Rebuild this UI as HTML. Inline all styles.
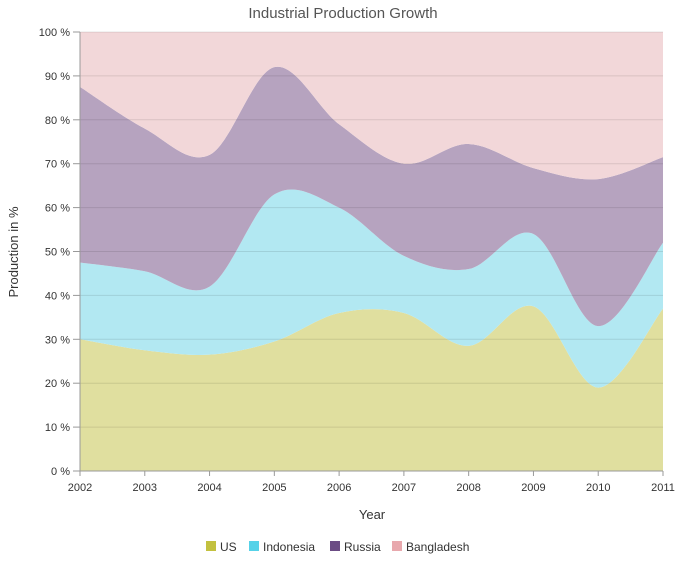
<!DOCTYPE html>
<html><head><meta charset="utf-8"><style>
body{margin:0;background:#fff;font-family:"Liberation Sans","DejaVu Sans",sans-serif}
svg text{font-family:"Liberation Sans","DejaVu Sans",sans-serif}
</style></head><body>
<svg id="chart" width="681" height="559">
<text x="343" y="18" text-anchor="middle" font-size="15" fill="#555">Industrial Production Growth</text>
<g id="areas"></g><g id="grid"></g><g id="axes"></g>
<text x="372" y="519" text-anchor="middle" font-size="13" fill="#333">Year</text>
<text transform="translate(18,252) rotate(-90)" text-anchor="middle" font-size="13" fill="#333">Production in %</text>
<g id="legend"></g>
</svg>
<script>
const years=[2002,2003,2004,2005,2006,2007,2008,2009,2010,2011];
const us=[30,27.5,26.5,29.5,36,36,28.5,37.5,19,37];
const indonesia=[17.5,18,15.5,33.5,24,13,17.5,16.5,14,15];
const russia=[40,32.5,30,29,19,21,28.5,15,33.5,19.5];
const bangladesh=[12.5,22,28,8,21,30,25.5,31,33.5,28.5];
const yTicks=[0,10,20,30,40,50,60,70,80,90,100];
const seriesNames=["US","Indonesia","Russia","Bangladesh"];
const fills=["#e0df9f","#b2e8f2","#b6a3bf","#f2d7d9"];
const legendColors=["#c3c13f","#56d2e8","#6b4c84","#e8a8ad"];
const ns="http://www.w3.org/2000/svg";
const X0=80,X1=663,Y0=471,Y1=32;
const xs=i=>X0+(X1-X0)*i/(years.length-1);
const ys=v=>Y0-(Y0-Y1)*v/100;
function mk(t,a,p){const e=document.createElementNS(ns,t);for(const k in a)e.setAttribute(k,a[k]);p.appendChild(e);return e;}
const series=[us,indonesia,russia,bangladesh];
const totals=years.map((_,i)=>series.reduce((s,a)=>s+a[i],0));
const cum=[];let prev=years.map(()=>0);
series.forEach(a=>{const c=prev.map((p,i)=>p+a[i]/totals[i]*100);cum.push(c);prev=c;});
function spline(pts,start){let d=start?`M${pts[0][0]},${pts[0][1]}`:`L${pts[0][0]},${pts[0][1]}`;
for(let i=0;i<pts.length-1;i++){const p0=pts[Math.max(0,i-1)],p1=pts[i],p2=pts[i+1],p3=pts[Math.min(pts.length-1,i+2)];
const c1=[p1[0]+(p2[0]-p0[0])/6,p1[1]+(p2[1]-p0[1])/6],c2=[p2[0]-(p3[0]-p1[0])/6,p2[1]-(p3[1]-p1[1])/6];
d+=`C${c1[0]},${Math.min(Y0,Math.max(Y1,c1[1]))},${c2[0]},${Math.min(Y0,Math.max(Y1,c2[1]))},${p2[0]},${p2[1]}`;}return d;}
const areas=document.getElementById('areas');
cum.forEach((c,k)=>{const top=c.map((v,i)=>[xs(i),ys(v)]);
const bot=(k===0?years.map(()=>0):cum[k-1]).map((v,i)=>[xs(i),ys(v)]).reverse();
const p=mk('path',{d:spline(top,true)+spline(bot,false)+'Z',fill:fills[k]},areas);

});
const grid=document.getElementById('grid'),axes=document.getElementById('axes');
yTicks.forEach(t=>{const y=ys(t);
if(t>0){const g=mk('line',{x1:X0,x2:X1,y1:y,y2:y,stroke:'rgba(0,0,0,0.1)'},grid);}
mk('line',{x1:X0-7,x2:X0,y1:y,y2:y,stroke:'#999'},axes);
const tx=mk('text',{x:X0-10,y:y+4,'text-anchor':'end','font-size':'11',fill:'#333'},axes);tx.textContent=t+' %';
});
mk('line',{x1:X0,x2:X0,y1:Y1,y2:Y0,stroke:'#999'},axes);
mk('line',{x1:X0,x2:X1,y1:Y0,y2:Y0,stroke:'#999'},axes);
years.forEach((yr,i)=>{const x=xs(i);mk('line',{x1:x,x2:x,y1:Y0,y2:Y0+5,stroke:'#999'},axes);
const tx=mk('text',{x:x,y:491,'text-anchor':'middle','font-size':'11',fill:'#333'},axes);tx.textContent=yr;
});
const lg=document.getElementById('legend');const lx=[206,249,330,392];
seriesNames.forEach((n,k)=>{const g=mk('g',{},lg);
mk('rect',{x:lx[k],y:541,width:10,height:10,fill:legendColors[k]},g);
const t=mk('text',{x:lx[k]+14,y:551,'font-size':'12',fill:'#333'},g);t.textContent=n;});
</script>
</body></html>
